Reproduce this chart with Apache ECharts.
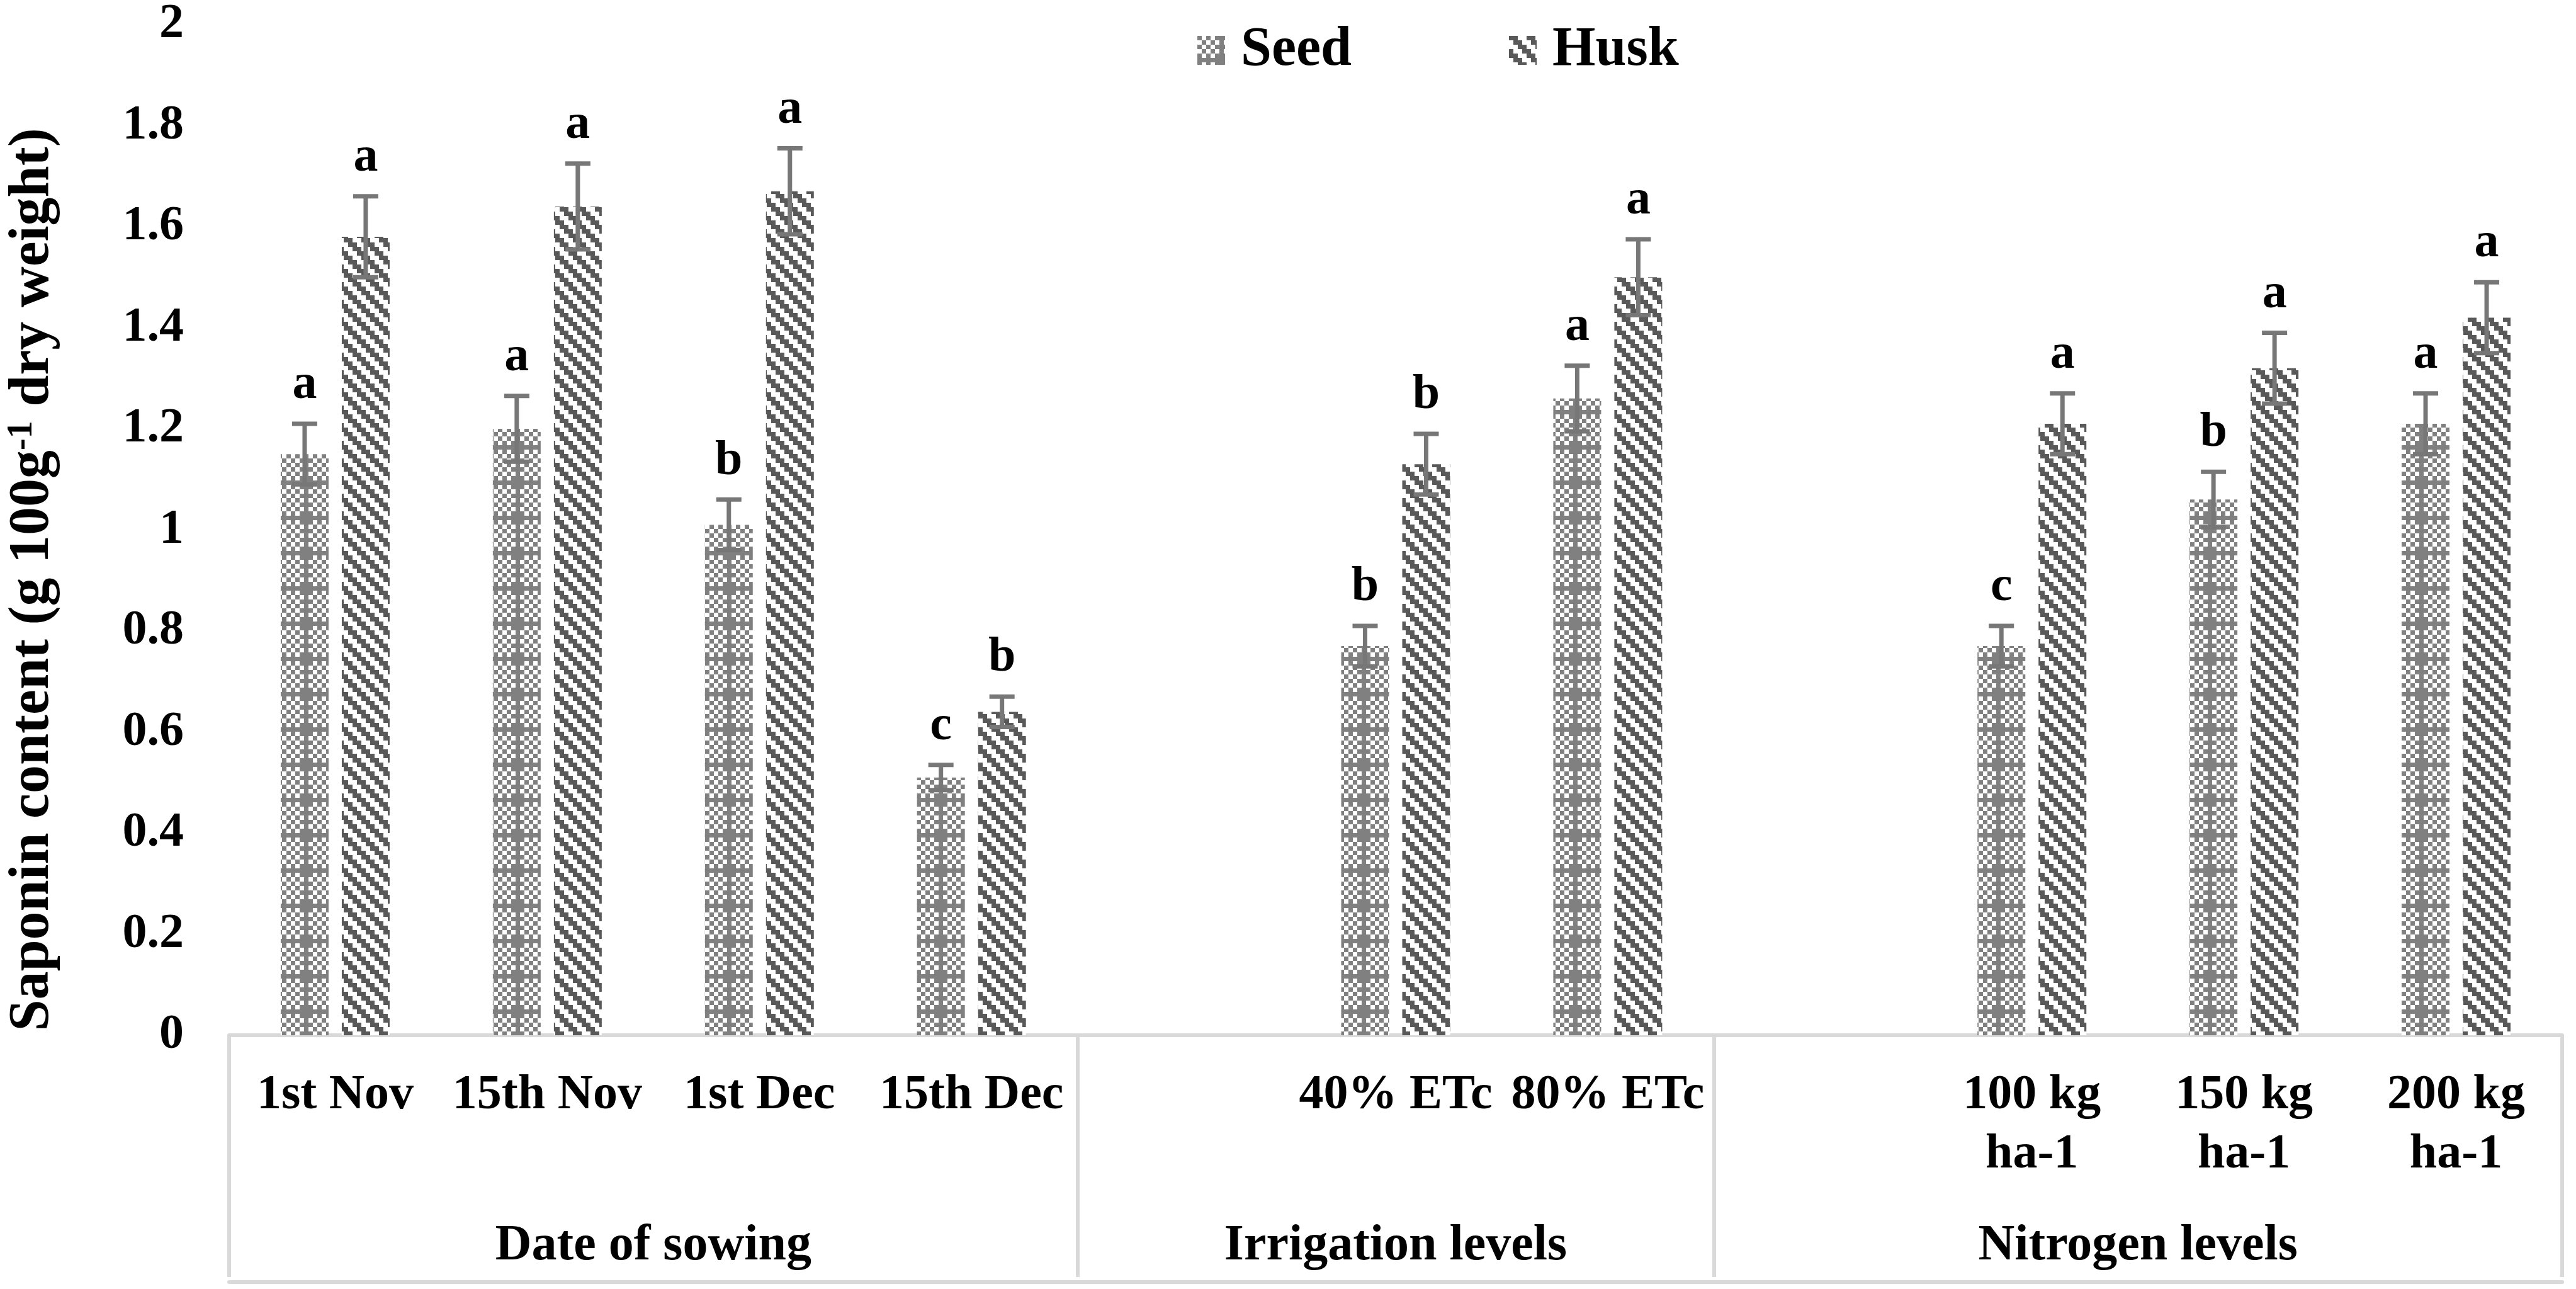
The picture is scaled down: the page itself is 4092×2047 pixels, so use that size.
<!DOCTYPE html>
<html>
<head>
<meta charset="utf-8">
<script src="https://cdn.jsdelivr.net/npm/echarts@6/dist/echarts.min.js"></script>
<style>
 body{margin:0;background:#fff;}
 #chart{width:4092px;height:2047px;}
</style>
</head>
<body>
<div id="chart"></div>
<script>
// categories (blank slots separate the three factor groups)
var categories = ['1st Nov','15th Nov','1st Dec','15th Dec','','40% ETc','80% ETc','','100 kg\nha-1','150 kg\nha-1','200 kg\nha-1'];
var groupNames = ['Date of sowing','Irrigation levels','Nitrogen levels'];
var groupBounds = [0,4,7,11];

var seedVals = [1.15, 1.20, 1.01, 0.51, null, 0.77, 1.26, null, 0.77, 1.06, 1.21];
var seedErr  = [0.06, 0.065, 0.05, 0.025, null, 0.04, 0.065, null, 0.04, 0.055, 0.06];
var seedSig  = ['a','a','b','c','','b','a','','c','b','a'];

var huskVals = [1.58, 1.64, 1.67, 0.64, null, 1.13, 1.50, null, 1.21, 1.32, 1.42];
var huskErr  = [0.08, 0.085, 0.085, 0.03, null, 0.06, 0.075, null, 0.06, 0.07, 0.07];
var huskSig  = ['a','a','a','b','','b','a','','a','a','a'];

var FONT = '"Liberation Serif","Times New Roman",serif';
var BAR_W = 76, BAR_GAP = 21;
var OFF = (BAR_W + BAR_GAP) / 2;

// pixel pattern tiles like the excel fills
function seedTile(){
  var cell = 7, n = 8;
  var c = document.createElement('canvas');
  c.width = c.height = cell*n;
  var ctx = c.getContext('2d');
  ctx.fillStyle = '#fff'; ctx.fillRect(0,0,c.width,c.height);
  ctx.fillStyle = '#808080';
  for(var y=0;y<n;y++){
    for(var x=0;x<n;x++){
      var on = (x+y)%2==0;
      if((x==4||x==5)&&(y==4||y==5)) on = true;
      if((x==4||x==5)&&y%2==0) on = true;
      if((y==4||y==5)&&x%2==0) on = true;
      if(on) ctx.fillRect(x*cell,y*cell,cell,cell);
    }
  }
  return c;
}
function huskTile(){
  var cell = 7, n = 4;
  var c = document.createElement('canvas');
  c.width = c.height = cell*n;
  var ctx = c.getContext('2d');
  ctx.fillStyle = '#fff'; ctx.fillRect(0,0,c.width,c.height);
  ctx.fillStyle = '#595959';
  for(var y=0;y<n;y++){
    for(var x=0;x<n;x++){
      var m = ((x-y)%n+n)%n;
      if(m==0||m==1) ctx.fillRect(x*cell,y*cell,cell,cell);
    }
  }
  return c;
}
var seedFill = {image: seedTile(), repeat: 'repeat'};
var huskFill = {image: huskTile(), repeat: 'repeat'};

function errData(vals, errs){
  var out = [];
  for(var i=0;i<vals.length;i++){
    if(vals[i]==null) out.push(['-','-','-']);
    else out.push([i, vals[i], errs[i]]);
  }
  return out;
}

function errRender(offset, sigs){
  return function(params, api){
    var v = api.value(1), e = api.value(2);
    if(isNaN(v)) return null;
    var i = api.value(0);
    var top = api.coord([i, v+e]);
    var bot = api.coord([i, v-e]);
    var x = top[0] + offset;
    var st = {stroke:'#777777', lineWidth:7};
    return {type:'group', children:[
      {type:'line', shape:{x1:x,y1:top[1],x2:x,y2:bot[1]}, style:st},
      {type:'line', shape:{x1:x-20,y1:top[1],x2:x+20,y2:top[1]}, style:st},
      {type:'line', shape:{x1:x-20,y1:bot[1],x2:x+20,y2:bot[1]}, style:st},
      {type:'text', style:{text:sigs[params.dataIndex], x:x, y:top[1]-22, align:'center', verticalAlign:'bottom',
        fontSize:78, fontWeight:'bold', fontFamily:FONT, fill:'#000'}}
    ]};
  };
}

var myChart = echarts.init(document.getElementById('chart'));
var option = {
  backgroundColor:'#fff',
  animation:false,
  grid:{left:359, right:22, top:37, bottom:403, containLabel:false},
  legend:{
    data:['Seed','Husk'],
    left:1897, top:31,
    icon:'rect', itemWidth:44, itemHeight:46, itemGap:250,
    textStyle:{fontSize:88, fontWeight:'bold', fontFamily:FONT, color:'#000', padding:[0,0,0,20]}
  },
  xAxis:[
    {
      type:'category', data:categories,
      axisLine:{show:true, lineStyle:{color:'#d9d9d9', width:6}},
      axisTick:{show:false},
      axisLabel:{interval:0, fontSize:78, fontWeight:'bold', fontFamily:FONT, color:'#000', margin:49, lineHeight:94},
      splitLine:{show:false}
    },
    {
      type:'value', min:0, max:11, position:'bottom',
      axisLine:{show:false},
      axisTick:{show:true, customValues:groupBounds, length:384, lineStyle:{color:'#d9d9d9', width:6}},
      axisLabel:{show:true, customValues:[2,5.5,9], margin:295, fontSize:80, fontWeight:'bold', fontFamily:FONT, color:'#000',
        formatter:function(v){ return v==2?groupNames[0]:(v==5.5?groupNames[1]:groupNames[2]); }},
      splitLine:{show:false}
    },
    {
      type:'value', min:0, max:11, position:'bottom', offset:392,
      axisLine:{show:true, lineStyle:{color:'#d9d9d9', width:6}},
      axisTick:{show:false}, axisLabel:{show:false}, splitLine:{show:false}
    }
  ],
  yAxis:{
    type:'value', min:0, max:2, interval:0.2,
    axisLine:{show:false}, axisTick:{show:false}, splitLine:{show:false},
    axisLabel:{fontSize:78, fontWeight:'bold', fontFamily:FONT, color:'#000', margin:72},
    name:'{a|Saponin content (g 100g}{s|-1}{a| dry weight)}',
    nameLocation:'middle', nameGap:266, nameRotate:90,
    nameTextStyle:{
      padding:[0,158,0,0],
      rich:{
        a:{fontSize:90, fontWeight:'bold', fontFamily:FONT, color:'#000'},
        s:{fontSize:56, fontWeight:'bold', fontFamily:FONT, color:'#000', verticalAlign:'top'}
      }
    }
  },
  series:[
    {name:'Seed', type:'bar', data:seedVals, barWidth:BAR_W, barGap:(BAR_GAP/BAR_W*100)+'%',
     itemStyle:{color:seedFill}},
    {name:'Husk', type:'bar', data:huskVals, barWidth:BAR_W,
     itemStyle:{color:huskFill}},
    {name:'Seed SE', type:'custom', z:5, data:errData(seedVals, seedErr), renderItem:errRender(-OFF, seedSig)},
    {name:'Husk SE', type:'custom', z:5, data:errData(huskVals, huskErr), renderItem:errRender(OFF, huskSig)}
  ]
};
myChart.setOption(option);
</script>
</body>
</html>
